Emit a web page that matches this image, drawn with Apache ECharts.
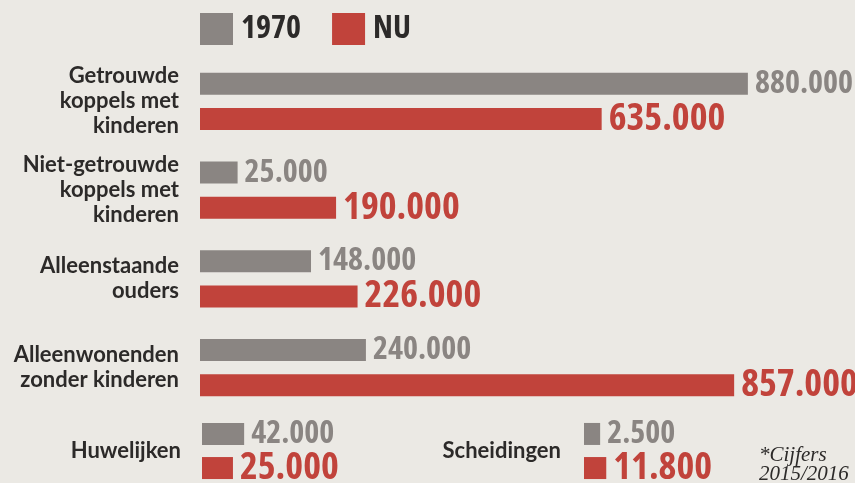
<!DOCTYPE html>
<html>
<head>
<meta charset="utf-8">
<script src="https://cdn.jsdelivr.net/npm/echarts@6/dist/echarts.min.js"></script>
<style>
  html, body { margin: 0; padding: 0; background: #ebe9e4; }
  #chart { width: 855px; height: 483px; }
</style>
</head>
<body>
<div id="chart"></div>
<script>
// Households: 1970 vs now
const categories = [
    'Getrouwde\nkoppels met\nkinderen',
    'Niet-getrouwde\nkoppels met\nkinderen',
    'Alleenstaande\nouders',
    'Alleenwonenden\nzonder kinderen'
];
const values1970 = [880000, 25000, 148000, 240000];
const valuesNu = [635000, 190000, 226000, 857000];

// Marriages and divorces (bottom row)
const huwelijken1970 = [42000];
const huwelijkenNu = [25000];
const scheidingen1970 = [2500];
const scheidingenNu = [11800];

const seriesNames = ['1970', 'NU'];
const footnote = '*Cijfers\n2015/2016';

const GRAY = '#8a8582';
const RED = '#c1433b';
const TEXT = '#2c2a29';
// variable Open Sans, narrowed through font-stretch
const NUM_FONT = "'Open Sans', sans-serif";
const CAT_FONT = "Lato, 'Noto Sans', sans-serif";

function fmt(v) {
    return String(v).replace(/\B(?=(\d{3})+(?!\d))/g, '.');
}

function barLabel(color, size) {
    return {
        show: true,
        position: 'right',
        distance: 7,
        color: color,
        fontFamily: NUM_FONT,
        fontStyle: 'condensed',
        fontWeight: 'bold',
        fontSize: size,
        formatter: p => fmt(p.value)
    };
}

function catAxis(gridIndex, data, margin) {
    return {
        type: 'category',
        gridIndex: gridIndex,
        data: data,
        inverse: true,
        axisLine: { show: false },
        axisTick: { show: false },
        axisLabel: {
            margin: margin,
            color: TEXT,
            fontFamily: CAT_FONT,
            fontWeight: 'bold',
            fontSize: 22,
            lineHeight: 25,
            align: 'right'
        }
    };
}

function valAxis(gridIndex, min, max) {
    return {
        type: 'value',
        gridIndex: gridIndex,
        min: min,
        max: max,
        startValue: min,
        show: false,
        splitLine: { show: false }
    };
}

const myChart = echarts.init(document.getElementById('chart'));

const option = {
    backgroundColor: '#ebe9e4',
    animation: false,
    legend: {
        data: seriesNames,
        left: 200,
        top: 13,
        padding: 0,
        itemWidth: 33,
        itemHeight: 32,
        itemGap: 31,
        icon: 'rect',
        textStyle: {
            color: TEXT,
            fontFamily: NUM_FONT,
            fontStyle: 'condensed',
            fontWeight: 'bold',
            fontSize: 32,
            padding: [0, 0, 0, 3]
        }
    },
    grid: [
        { left: 200, top: 57, width: 619.5, height: 355 },
        { left: 202, top: 421, width: 54, height: 60 },
        { left: 584, top: 421, width: 54, height: 60 }
    ],
    xAxis: [
        valAxis(0, -38000, 1000000),
        valAxis(1, -22000, 60000),
        valAxis(2, -22000, 60000)
    ],
    yAxis: [
        catAxis(0, categories, 21),
        catAxis(1, ['Huwelijken'], 21),
        catAxis(2, ['Scheidingen'], 23)
    ],
    series: [
        {
            name: '1970', type: 'bar', xAxisIndex: 0, yAxisIndex: 0,
            data: values1970, barWidth: 22, barGap: '60%',
            itemStyle: { color: GRAY }, label: barLabel(GRAY, 32)
        },
        {
            name: 'NU', type: 'bar', xAxisIndex: 0, yAxisIndex: 0,
            data: valuesNu, barWidth: 22, barGap: '60%',
            itemStyle: { color: RED }, label: barLabel(RED, 38)
        },
        {
            name: '1970', type: 'bar', xAxisIndex: 1, yAxisIndex: 1,
            data: huwelijken1970, barWidth: 22, barGap: '55%',
            itemStyle: { color: GRAY }, label: barLabel(GRAY, 32)
        },
        {
            name: 'NU', type: 'bar', xAxisIndex: 1, yAxisIndex: 1,
            data: huwelijkenNu, barWidth: 22, barGap: '55%',
            itemStyle: { color: RED }, label: barLabel(RED, 38)
        },
        {
            name: '1970', type: 'bar', xAxisIndex: 2, yAxisIndex: 2,
            data: scheidingen1970, barWidth: 22, barGap: '55%',
            itemStyle: { color: GRAY }, label: barLabel(GRAY, 32)
        },
        {
            name: 'NU', type: 'bar', xAxisIndex: 2, yAxisIndex: 2,
            data: scheidingenNu, barWidth: 22, barGap: '55%',
            itemStyle: { color: RED }, label: barLabel(RED, 38)
        }
    ],
    graphic: [
        {
            type: 'text',
            left: 759,
            top: 445,
            style: {
                text: footnote,
                fill: TEXT,
                font: "italic 21px 'Liberation Serif', serif",
                lineHeight: 19,
                align: 'center'
            }
        }
    ]
};

myChart.setOption(option);
</script>
</body>
</html>
